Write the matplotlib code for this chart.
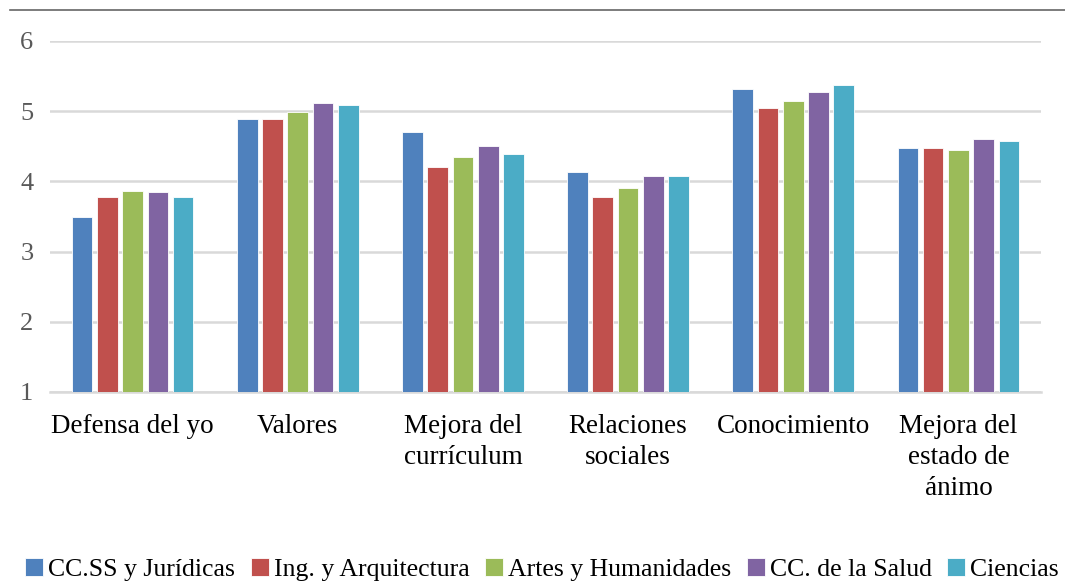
import matplotlib
matplotlib.use("Agg")
from matplotlib import pyplot as plt
from matplotlib.lines import Line2D
import numpy as np

categories = ["Defensa del yo", "Valores", "Mejora del\ncurrículum",
              "Relaciones\nsociales", "Conocimiento", "Mejora del\nestado de\nánimo"]
series = ["CC.SS y Jurídicas", "Ing. y Arquitectura", "Artes y Humanidades",
          "CC. de la Salud", "Ciencias"]
ccss = [3.49, 4.89, 4.71, 4.13, 5.31, 4.48]
ing = [3.78, 4.89, 4.20, 3.78, 5.05, 4.48]
artes = [3.87, 4.99, 4.35, 3.91, 5.15, 4.45]
salud = [3.85, 5.12, 4.51, 4.07, 5.28, 4.61]
ciencias = [3.78, 5.09, 4.39, 4.07, 5.38, 4.58]
values = [ccss, ing, artes, salud, ciencias]
colors = ["#4F81BD", "#C0504D", "#9BBB59", "#8064A2", "#4BACC6"]

plt.rcParams["font.family"] = ["Liberation Serif", "DejaVu Serif"]

fig = plt.figure(figsize=(10.65, 5.81), dpi=100)
ax = fig.add_axes([50 / 1065, 1 - 392 / 581, (1041 - 50) / 1065, (392 - 41) / 581])

x = np.arange(len(categories))
step = 0.153
width = 0.125
for i, (vals, col, name) in enumerate(zip(values, colors, series)):
    ax.bar(x + (i - 2) * step, np.array(vals) - 1, width=width, bottom=1,
           color=col, edgecolor="white", linewidth=0.6, label=name, zorder=3)

ax.set_xlim(-0.5, len(categories) - 0.5)
ax.set_ylim(1, 6)
ax.set_yticks([1, 2, 3, 4, 5, 6])
ax.yaxis.grid(True, color="#d9d9d9", linewidth=1.8, zorder=0)
for s in ["top", "right", "left"]:
    ax.spines[s].set_visible(False)
ax.spines["bottom"].set_color("#d9d9d9")
ax.spines["bottom"].set_linewidth(1.8)
ax.tick_params(axis="both", length=0)
ax.tick_params(axis="y", labelsize=19, labelcolor="#595959", pad=12)
ax.set_xticks(x)
ax.set_xticklabels(categories, fontsize=19.5, color="black", linespacing=1.32)
ax.tick_params(axis="x", pad=16)

# top border line
fig.add_artist(Line2D([10 / 1065, 1], [1 - 10 / 581, 1 - 10 / 581],
                      transform=fig.transFigure, color="#666666", linewidth=1.2))

fig.legend(loc="lower center", bbox_to_anchor=(0.509, -0.04), ncol=5, frameon=False,
           fontsize=18.5, handlelength=0.7, handleheight=0.7, handletextpad=0.2,
           columnspacing=0.6)

plt.savefig("out.png", dpi=100)
